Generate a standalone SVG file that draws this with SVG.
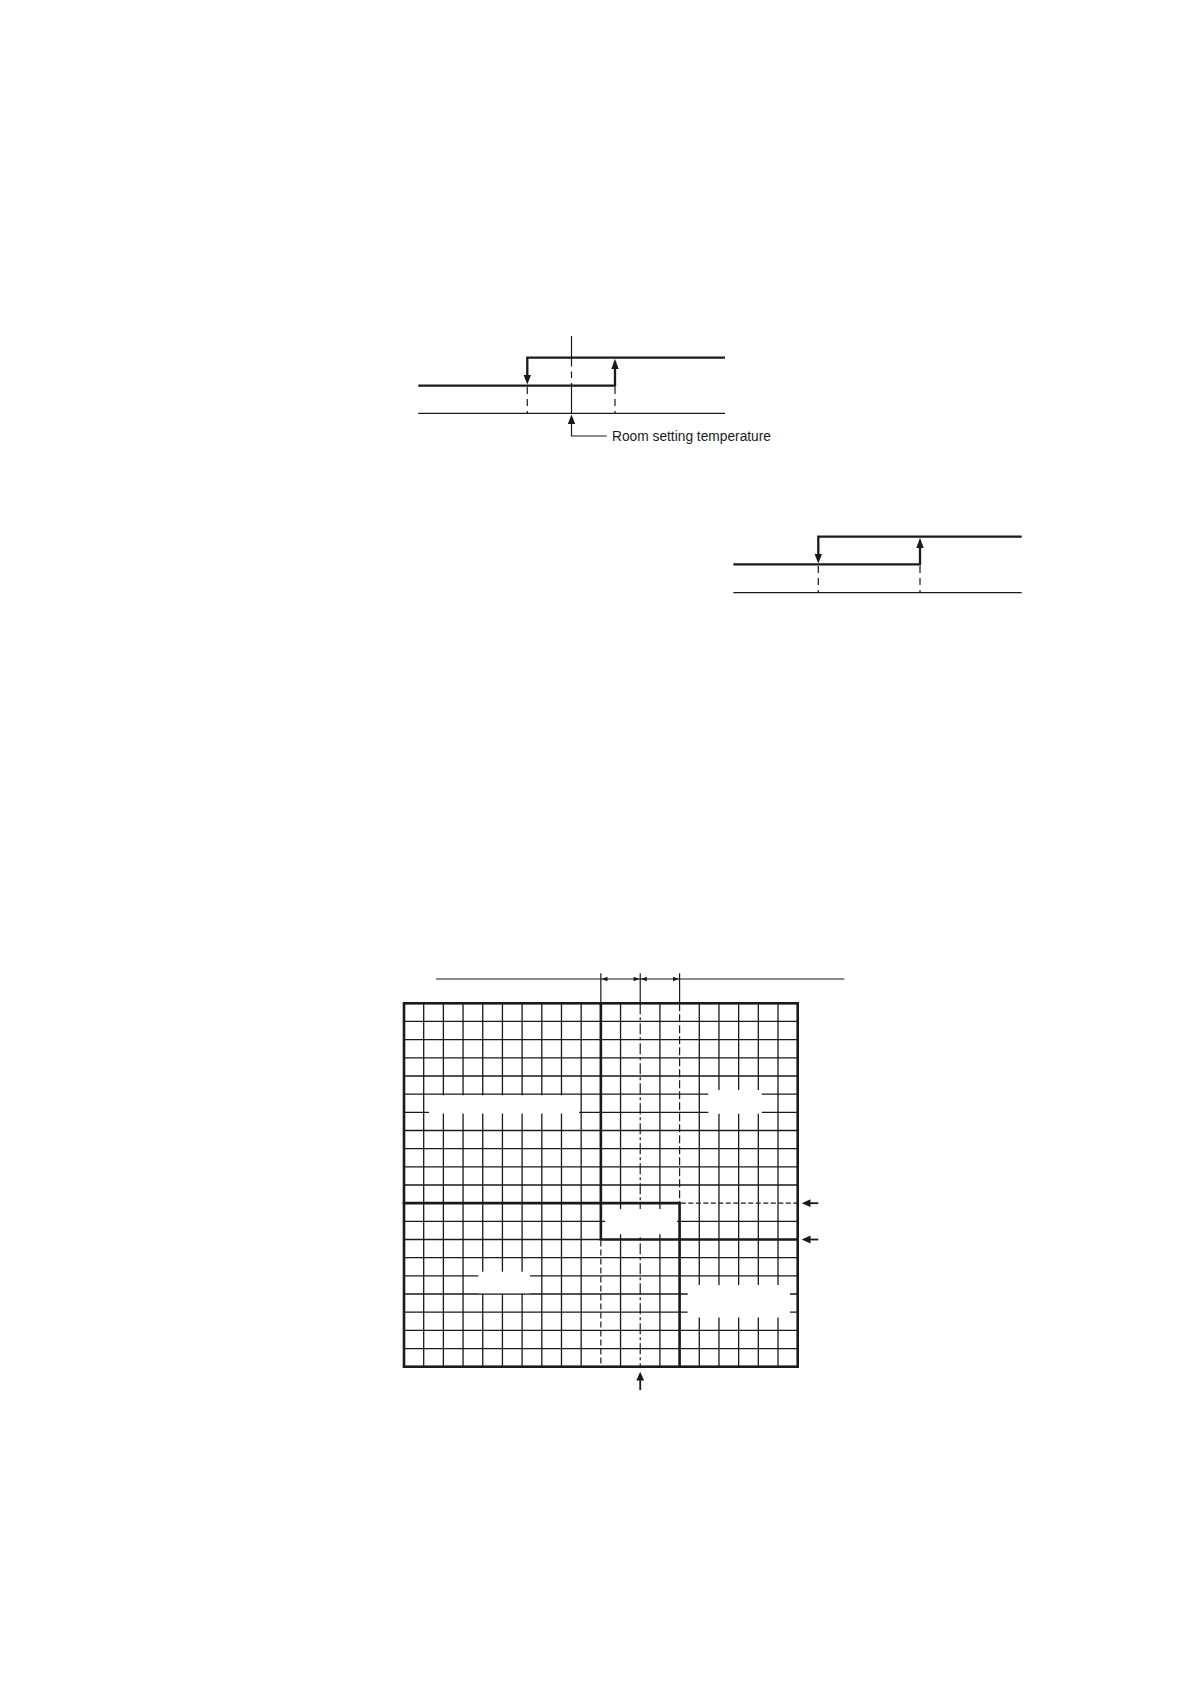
<svg xmlns="http://www.w3.org/2000/svg" width="1191" height="1684" viewBox="0 0 1191 1684">
<style>
.thick{stroke:#1a1a1a;stroke-width:2.3;fill:none;stroke-linecap:butt}
.thin{stroke:#1a1a1a;stroke-width:1.2;fill:none}
.grid{stroke:#1a1a1a;stroke-width:1.3;fill:none}
.gthick{stroke:#1a1a1a;stroke-width:2.6;fill:none;stroke-linecap:square}
.dash{stroke:#1a1a1a;stroke-width:1.2;fill:none;stroke-dasharray:7 4}
.head{fill:#1a1a1a;stroke:none}
.mask{fill:#ffffff;stroke:none}
.lbl{font-family:"Liberation Sans",Arial,sans-serif;font-size:14px;fill:#1a1a1a}
</style>
<rect width="1191" height="1684" fill="#ffffff"/>

<g id="chart1">
  <path class="thin" d="M418.3 413.3H725"/>
  <path class="thick" d="M418.3 385.7H615V368"/>
  <path class="thick" d="M527.3 376V357.7H725"/>
  <polygon class="head" points="527.3,384.5 523.6,375 531,375"/>
  <polygon class="head" points="615,358.8 611.3,369 618.7,369"/>
  <path class="dash" d="M527.3 387V413.3M615 387V413.3" style="stroke-dasharray:7 5"/>
  <path class="thin" d="M571.5 336V366.5M571.5 371.5V378M571.5 383V413.3"/>
</g>

<g id="room-setting-label">
  <polygon class="head" points="571.5,414.5 567.8,424 575.2,424"/>
  <path class="thin" d="M571.5 423V436H606.7"/>
  <text class="lbl" x="612" y="440.5" textLength="159" lengthAdjust="spacingAndGlyphs">Room setting temperature</text>
</g>

<g id="chart2">
  <path class="thin" d="M733.3 592.7H1021.7"/>
  <path class="thick" d="M733.3 564.3H920V548"/>
  <path class="thick" d="M818.3 555V536.7H1021.7"/>
  <polygon class="head" points="818.3,563.5 814.6,554 822,554"/>
  <polygon class="head" points="920,537.8 916.3,548 923.7,548"/>
  <path class="dash" d="M818.3 566V592.7M920 566V592.7" style="stroke-dasharray:7 5"/>
</g>

<g id="dimension">
  <path class="thin" d="M436 979H844.3"/>
  <path class="thin" d="M600.85 973.3V1003.3M640.22 973.3V1003.3M679.59 973.3V1003.3"/>
  <polygon class="head" points="601.5,979 607.5,976.8 607.5,981.2"/>
  <polygon class="head" points="639.6,979 633.6,976.8 633.6,981.2"/>
  <polygon class="head" points="640.8,979 646.8,976.8 646.8,981.2"/>
  <polygon class="head" points="679,979 673,976.8 673,981.2"/>
</g>

<g id="grid">
  <path class="grid" d="M423.69 1003.3V1366.7M443.37 1003.3V1366.7M463.06 1003.3V1366.7M482.74 1003.3V1366.7M502.43 1003.3V1366.7M522.11 1003.3V1366.7M541.8 1003.3V1366.7M561.48 1003.3V1366.7M581.17 1003.3V1366.7M620.54 1003.3V1366.7M659.91 1003.3V1366.7M699.28 1003.3V1366.7M718.96 1003.3V1366.7M738.65 1003.3V1366.7M758.33 1003.3V1366.7M778.02 1003.3V1366.7"/>
  <path class="grid" d="M404 1021.47H797.7M404 1039.64H797.7M404 1057.81H797.7M404 1075.98H797.7M404 1094.15H797.7M404 1112.32H797.7M404 1130.49H797.7M404 1148.66H797.7M404 1166.83H797.7M404 1185H797.7M404 1221.34H797.7M404 1239.51H600.85M404 1257.68H797.7M404 1275.85H797.7M404 1294.02H797.7M404 1312.19H797.7M404 1330.36H797.7M404 1348.53H797.7"/>
  <path class="dash" d="M600.85 1240.5V1366.7" style="stroke-dasharray:6 3"/>
  <path class="dash" d="M679.59 1003.3V1202" style="stroke-dasharray:8 3"/>
  <path class="dash" d="M640.22 1003.3V1366.7" style="stroke-dasharray:11 3 3 3"/>
  <path class="dash" d="M680.8 1203.17H797.7" style="stroke-dasharray:5 2.5"/>
  <rect class="mask" x="429" y="1095.3" width="150" height="18.2"/>
  <rect class="mask" x="708.3" y="1090" width="53.4" height="23.8"/>
  <rect class="mask" x="605" y="1209" width="72" height="25.3"/>
  <rect class="mask" x="478.3" y="1271.7" width="51.7" height="21.6"/>
  <rect class="mask" x="687.7" y="1285" width="102.3" height="32.5"/>
  <path class="gthick" d="M600.85 1003.3V1239.51H797.7"/>
  <path class="gthick" d="M404 1203.17H679.59V1366.7"/>
  <rect class="gthick" x="404" y="1003.3" width="393.7" height="363.4"/>
</g>

<g id="pointers">
  <path class="thin" d="M818.3 1203.17H808" style="stroke-width:1.8"/>
  <polygon class="head" points="801.7,1203.17 810.5,1199.3 810.5,1207"/>
  <path class="thin" d="M818.3 1239.51H808" style="stroke-width:1.8"/>
  <polygon class="head" points="801.7,1239.51 810.5,1235.6 810.5,1243.4"/>
  <path class="thin" d="M640.22 1390V1379" style="stroke-width:1.8"/>
  <polygon class="head" points="640.22,1371.7 636.3,1380.5 644.1,1380.5"/>
</g>
</svg>
